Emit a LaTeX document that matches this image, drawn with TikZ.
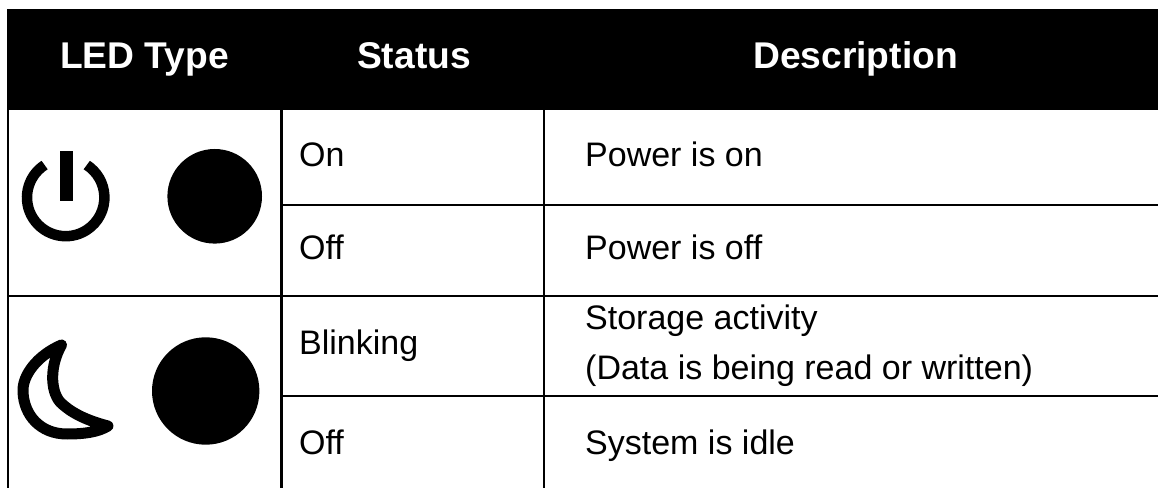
\documentclass[tikz,border=0pt]{standalone}
\usepackage{fontspec}
\setmainfont{Liberation Sans}
\tikzset{
  hdr/.style={anchor=base,inner sep=0pt,text=white,font=\fontsize{37.2bp}{44bp}\selectfont\bfseries},
  body/.style={anchor=base west,inner sep=0pt,text=black,font=\fontsize{34bp}{40bp}\selectfont},
  rule/.style={line width=2.2bp,black},
  thinrule/.style={line width=2bp,black},
  icon/.style={line width=10.5bp,black},
  moonline/.style={line width=11bp,black,line join=round,line cap=round}
}
\begin{document}
\begin{tikzpicture}[x=1bp,y=-1bp]
\useasboundingbox (0,0) rectangle (1158,488);
\fill[white] (0,0) rectangle (1158,488);
% grid
\draw[rule] (8,110) -- (8,488);
\draw[rule] (281.5,110) -- (281.5,488);
\draw[rule] (544,110) -- (544,488);
\draw[rule] (8,296) -- (1158,296);
\draw[thinrule] (281.5,205) -- (1158,205);
\draw[thinrule] (281.5,396) -- (1158,396);
\fill[black] (7,9) rectangle (1158,110);
% header
\node[hdr] (h1) at (144.5,68.7) {LED Type};
\node[hdr] (h2) at (414,68.7) {Status};
\node[hdr] (h3) at (855.5,68.7) {Description};
% rows
\node[body] (s1) at (299,167) {On};
\node[body] (s2) at (299,259.5) {Off};
\node[body] (s3) at (299,355) {Blinking};
\node[body] (s4) at (299,454) {Off};
\node[body] (d1) at (585,167) {Power is on};
\node[body] (d2) at (585,259.5) {Power is off};
\node[body] (d3) at (585,330) {Storage activity};
\node[body] (d3b) at (585,379.5) {(Data is being read or written)};
\node[body] (d4) at (585,454) {System is idle};
% power icon
\draw[icon] (65.7,197.5) ++(-123:38.7) arc[start angle=-123,end angle=-417,radius=38.7];
\fill[black] (60,150.7) rectangle (72.7,200.7);
\fill[black] (214.7,196.3) circle[radius=47.3];
% moon icon
\draw[moonline] (61.5,345)
  .. controls (38,355) and (22,375) .. (23,392)
  .. controls (24,415) and (40,434) .. (67,434)
  .. controls (85,434) and (98,432) .. (108,426)
  .. controls (85,420) and (70,412) .. (60,402)
  .. controls (50,390) and (50,365) .. cycle;
\fill[black] (205.7,391) circle[radius=53.7];
\end{tikzpicture}
\end{document}
